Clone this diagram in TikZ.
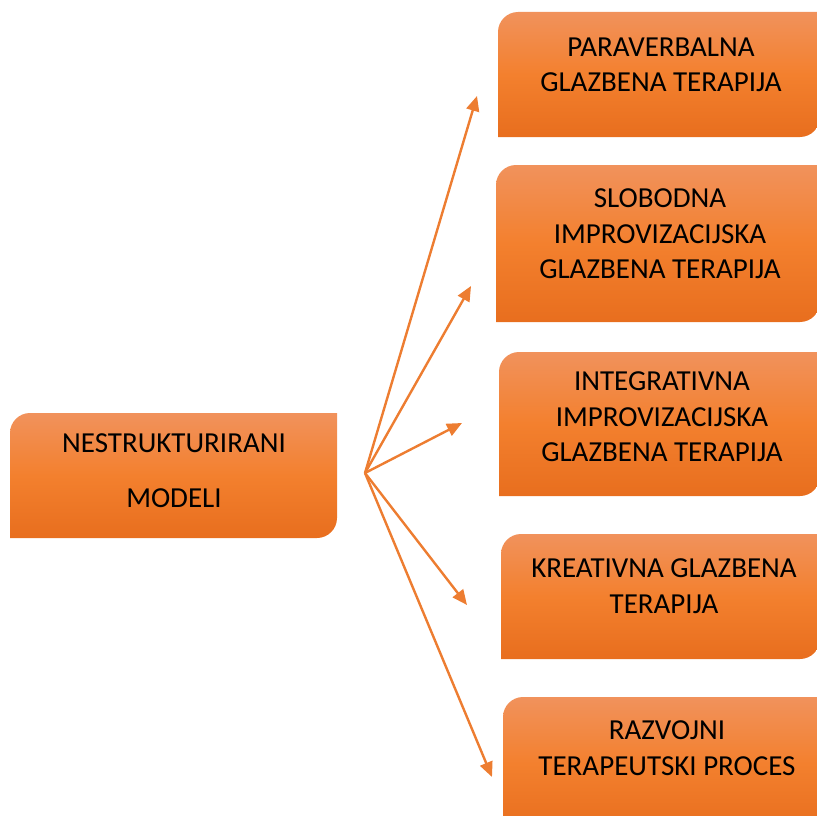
\documentclass[tikz,border=0pt]{standalone}
\usepackage{fontspec}
\setmainfont{Carlito}
\usetikzlibrary{arrows.meta}
\definecolor{narTop}{RGB}{241,146,92}
\definecolor{narMid}{RGB}{243,128,46}
\definecolor{narBot}{RGB}{232,110,30}
\definecolor{strelica}{RGB}{237,125,49}
% okvir: zaobljen gornji lijevi i donji desni kut (x1,y1,x2,y2)
\newcommand{\kutija}[4]{%
  \shade[okvir] (#1,#4) -- (#1,#2+20) .. controls (#1,#2+9) and (#1+9,#2) .. (#1+20,#2)
    -- (#3,#2) -- (#3,#4-20) .. controls (#3,#4-9) and (#3-9,#4) .. (#3-20,#4) -- cycle;}

\begin{document}
\begin{tikzpicture}[x=1pt,y=-1pt,
  okvir/.style={top color=narTop,bottom color=narBot,middle color=narMid},
  tekst/.style={align=center,inner sep=0pt,font=\fontsize{29}{35.5}\selectfont},
  veza/.style={draw=strelica,line width=2.4pt,-{Triangle[length=15pt,width=13pt]}}]
\clip (0,0) rectangle (817,816);
% lijevi okvir
\kutija{10}{413}{337}{538}
\node[tekst] (modeli) at (174,471) {NESTRUKTURIRANI\\[19.5pt]MODELI};
% desni okviri
\kutija{498}{12}{820}{137}
\node[tekst] (paraverbalna) at (661,65) {PARAVERBALNA\\GLAZBENA TERAPIJA};
\kutija{496}{165}{820}{322}
\node[tekst] (slobodna) at (660,234) {SLOBODNA\\IMPROVIZACIJSKA\\GLAZBENA TERAPIJA};
\kutija{499}{352}{820}{496}
\node[tekst] (integrativna) at (662,417) {INTEGRATIVNA\\IMPROVIZACIJSKA\\GLAZBENA TERAPIJA};
\kutija{501}{534}{820}{659}
\node[tekst] (kreativna) at (664,586) {KREATIVNA GLAZBENA\\TERAPIJA};
\kutija{503}{697}{830}{830}
\node[tekst] (razvojni) at (667,748) {RAZVOJNI\\TERAPEUTSKI PROCES};
% strelice iz zajednicke tocke
\coordinate (izvor) at (365,473);
\coordinate (k1) at (477,96);
\coordinate (k2) at (471,286);
\coordinate (k3) at (462,423);
\coordinate (k4) at (467,605);
\coordinate (k5) at (492,777);
\foreach \k in {k1,k2,k3,k4,k5}
  \draw[veza] (izvor) -- (\k);
\end{tikzpicture}
\end{document}
